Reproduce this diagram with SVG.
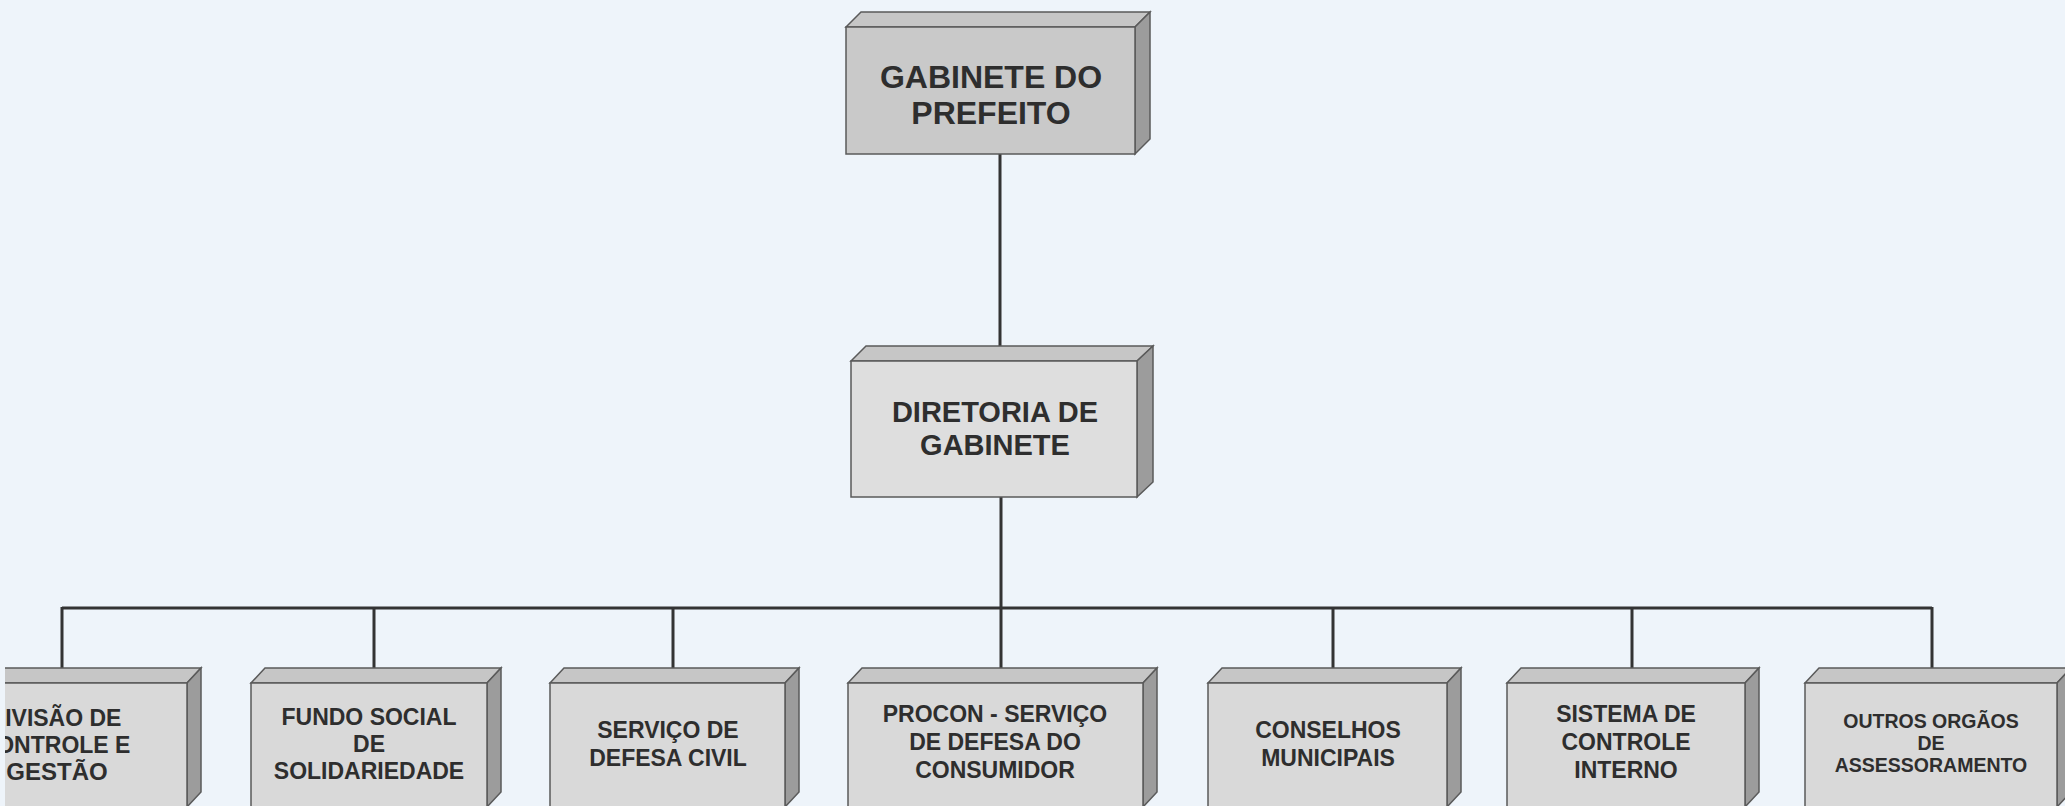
<svg xmlns="http://www.w3.org/2000/svg" width="2065" height="806" viewBox="0 0 2065 806">
<style>
.front{fill:#d9d9d9;stroke:#5a5a5a;stroke-width:1.5}
.top{fill:#c6c6c6;stroke:#5a5a5a;stroke-width:1.5}
.side{fill:#9c9c9c;stroke:#5a5a5a;stroke-width:1.5}
.dark{fill:#c9c9c9}
.t{font-family:"Liberation Sans",Arial,sans-serif;font-weight:bold;fill:#2e2e2e;text-anchor:middle}
.big{font-size:32px}
.mid{font-size:29px}
.sm{font-size:23px}
.xs{font-size:19.5px}
.conn{stroke:#333;stroke-width:3;fill:none}
</style>
<rect x="0" y="0" width="2065" height="806" fill="#eef4fa"/>
<g id="connectors">
<line class="conn" x1="1000" y1="154" x2="1000" y2="346"/>
<line class="conn" x1="1001" y1="497" x2="1001" y2="668"/>
<line class="conn" x1="62" y1="608" x2="1932" y2="608"/>
<line class="conn" x1="62" y1="607" x2="62" y2="669"/>
<line class="conn" x1="374" y1="608" x2="374" y2="669"/>
<line class="conn" x1="673" y1="608" x2="673" y2="669"/>
<line class="conn" x1="1333" y1="608" x2="1333" y2="669"/>
<line class="conn" x1="1632" y1="608" x2="1632" y2="669"/>
<line class="conn" x1="1932" y1="607" x2="1932" y2="669"/>
</g>
<g id="gabinete-prefeito">
<polygon class="top" points="846,27 861,12 1150,12 1135,27"/>
<polygon class="side" points="1135,27 1150,12 1150,139 1135,154"/>
<rect class="front dark" x="846" y="27" width="289" height="127"/>
<text class="t big" x="991" y="88">GABINETE DO</text>
<text class="t big" x="991" y="124">PREFEITO</text>
</g>
<g id="diretoria-gabinete">
<polygon class="top" points="851,361 866,346 1153,346 1137,361"/>
<polygon class="side" points="1137,361 1153,346 1153,482 1137,497"/>
<rect class="front" x="851" y="361" width="286" height="136" style="fill:#dedede"/>
<text class="t mid" x="995" y="422">DIRETORIA DE</text>
<text class="t mid" x="995" y="455">GABINETE</text>
</g>
<g id="divisao-controle">
<polygon class="top" points="-49,683 -35,668 201,668 187,683"/>
<polygon class="side" points="187,683 201,668 201,792 187,807"/>
<rect class="front" x="-49" y="683" width="236" height="124"/>
<text class="t sm" x="55" y="726">DIVISÃO DE</text>
<text class="t sm" x="55" y="753">CONTROLE E</text>
<text class="t sm" x="57" y="780" style="font-size:24px">GESTÃO</text>
<rect x="0" y="660" width="5" height="146" fill="#eef4fa"/>
</g>
<g id="fundo-social">
<polygon class="top" points="251,683 265,668 501,668 487,683"/>
<polygon class="side" points="487,683 501,668 501,792 487,807"/>
<rect class="front" x="251" y="683" width="236" height="124"/>
<text class="t sm" x="369" y="725">FUNDO SOCIAL</text>
<text class="t sm" x="369" y="752">DE</text>
<text class="t sm" x="369" y="779">SOLIDARIEDADE</text>
</g>
<g id="defesa-civil">
<polygon class="top" points="550,683 564,668 799,668 785,683"/>
<polygon class="side" points="785,683 799,668 799,792 785,807"/>
<rect class="front" x="550" y="683" width="235" height="124"/>
<text class="t sm" x="668" y="738">SERVIÇO DE</text>
<text class="t sm" x="668" y="766">DEFESA CIVIL</text>
</g>
<g id="procon">
<polygon class="top" points="848,683 862,668 1157,668 1143,683"/>
<polygon class="side" points="1143,683 1157,668 1157,792 1143,807"/>
<rect class="front" x="848" y="683" width="295" height="124"/>
<text class="t sm" x="995" y="722">PROCON - SERVIÇO</text>
<text class="t sm" x="995" y="750">DE DEFESA DO</text>
<text class="t sm" x="995" y="778">CONSUMIDOR</text>
</g>
<g id="conselhos">
<polygon class="top" points="1208,683 1222,668 1461,668 1447,683"/>
<polygon class="side" points="1447,683 1461,668 1461,792 1447,807"/>
<rect class="front" x="1208" y="683" width="239" height="124"/>
<text class="t sm" x="1328" y="738">CONSELHOS</text>
<text class="t sm" x="1328" y="766">MUNICIPAIS</text>
</g>
<g id="controle-interno">
<polygon class="top" points="1507,683 1521,668 1759,668 1745,683"/>
<polygon class="side" points="1745,683 1759,668 1759,792 1745,807"/>
<rect class="front" x="1507" y="683" width="238" height="124"/>
<text class="t sm" x="1626" y="722">SISTEMA DE</text>
<text class="t sm" x="1626" y="750">CONTROLE</text>
<text class="t sm" x="1626" y="778">INTERNO</text>
</g>
<g id="outros-orgaos">
<polygon class="top" points="1805,683 1819,668 2071,668 2057,683"/>
<polygon class="side" points="2057,683 2071,668 2071,792 2057,807"/>
<rect class="front" x="1805" y="683" width="252" height="124"/>
<text class="t xs" x="1931" y="728">OUTROS ORGÃOS</text>
<text class="t xs" x="1931" y="750">DE</text>
<text class="t xs" x="1931" y="772">ASSESSORAMENTO</text>
</g>
</svg>
